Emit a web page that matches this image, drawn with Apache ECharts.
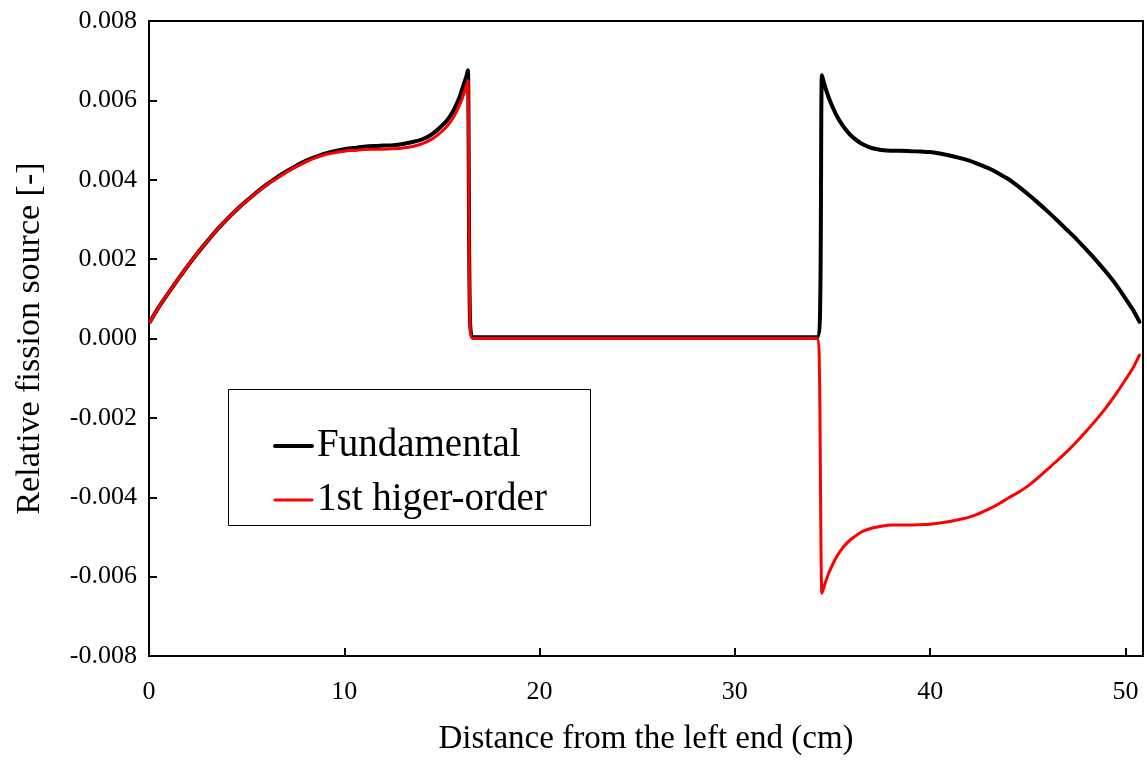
<!DOCTYPE html>
<html>
<head>
<meta charset="utf-8">
<script src="https://cdn.jsdelivr.net/npm/echarts@6/dist/echarts.min.js"></script>
<style>
html,body{margin:0;padding:0;background:#fff;}
#c{width:1147px;height:763px;}
</style>
</head>
<body>
<div id="c"></div>
<script>
// Distance (cm) and relative fission source values
const fundX = [0.05, 0.5, 1, 1.5, 2, 2.5, 3, 3.5, 4, 4.5, 5, 5.5, 6, 6.5, 7, 7.5, 8, 8.5, 9, 9.5, 10, 10.5, 11, 11.5, 12, 12.5, 13, 13.5, 14, 14.5, 15, 15.3, 15.6, 15.9, 16.1, 16.25, 16.33, 16.42, 16.56,
  34.2, 34.37, 34.46, 34.6, 34.8, 35.0, 35.25, 35.5, 35.75, 36.0, 36.3, 36.6, 37.0, 37.5, 38, 38.5, 39, 39.5, 40, 40.5, 41, 41.5, 42, 42.5, 43, 43.5, 44, 44.5, 45, 45.5, 46, 46.5, 47, 47.5, 48, 48.5, 49, 49.5, 50, 50.4, 50.72];
const fundY = [0.00042, 0.00079, 0.00115, 0.00150, 0.00184, 0.00216, 0.00246, 0.00275, 0.00301, 0.00325, 0.00347, 0.00368, 0.00387, 0.00404, 0.00420, 0.00434, 0.00447, 0.00457, 0.00466, 0.00472, 0.00477, 0.00480, 0.00483, 0.00485, 0.00486, 0.00487, 0.00490, 0.00495, 0.00502, 0.00515, 0.00536, 0.00552, 0.00575, 0.00608, 0.00638, 0.00660, 0.00676, 0.00100, 0.00003,
  0.00003, 0.00090, 0.00663, 0.00638, 0.00608, 0.00584, 0.00558, 0.00538, 0.00522, 0.00509, 0.00497, 0.00488, 0.00480, 0.00475, 0.00473, 0.00473, 0.00472, 0.00471, 0.00470, 0.00466, 0.00461, 0.00455, 0.00448, 0.00439, 0.00429, 0.00416, 0.00402, 0.00384, 0.00364, 0.00343, 0.00321, 0.00298, 0.00274, 0.00250, 0.00224, 0.00197, 0.00168, 0.00137, 0.00101, 0.00071, 0.00042];

const highX = [0.05, 0.5, 1, 1.5, 2, 2.5, 3, 3.5, 4, 4.5, 5, 5.5, 6, 6.5, 7, 7.5, 8, 8.5, 9, 9.5, 10, 10.5, 11, 11.5, 12, 12.5, 13, 13.5, 14, 14.5, 15, 15.3, 15.6, 15.9, 16.1, 16.25, 16.33, 16.42, 16.56,
  34.2, 34.33, 34.46, 34.6, 34.8, 35.0, 35.25, 35.5, 35.75, 36.0, 36.3, 36.6, 37.0, 37.5, 38, 38.5, 39, 39.5, 40, 40.5, 41, 41.5, 42, 42.5, 43, 43.5, 44, 44.5, 45, 45.5, 46, 46.5, 47, 47.5, 48, 48.5, 49, 49.5, 50, 50.4, 50.72];
const highY = [0.00042, 0.00079, 0.00115, 0.00150, 0.00184, 0.00216, 0.00246, 0.00275, 0.00301, 0.00325, 0.00347, 0.00367, 0.00386, 0.00402, 0.00418, 0.00432, 0.00444, 0.00455, 0.00463, 0.00468, 0.00472, 0.00474, 0.00476, 0.00477, 0.00477, 0.00478, 0.00480, 0.00484, 0.00491, 0.00503, 0.00522, 0.00537, 0.00558, 0.00588, 0.00613, 0.00635, 0.00650, 0.00095, 0.00000,
  0.00000, -0.00080, -0.00642, -0.00620, -0.00592, -0.00570, -0.00547, -0.00529, -0.00515, -0.00504, -0.00493, -0.00485, -0.00478, -0.00473, -0.00470, -0.00470, -0.00470, -0.00469, -0.00468, -0.00465, -0.00461, -0.00456, -0.00450, -0.00441, -0.00430, -0.00417, -0.00402, -0.00388, -0.00372, -0.00352, -0.00330, -0.00308, -0.00285, -0.00260, -0.00233, -0.00205, -0.00175, -0.00141, -0.00104, -0.00073, -0.00042];

const seriesNames = ['Fundamental', '1st higer-order'];
const xTitle = 'Distance from the left end (cm)';
const yTitle = 'Relative fission source [-]';

function pairs(xs, ys) { return xs.map((x, i) => [x, ys[i]]); }

const FONT = '"Liberation Serif", "Times New Roman", serif';
const chart = echarts.init(document.getElementById('c'), null, {renderer: 'canvas'});
chart.setOption({
  animation: false,
  backgroundColor: '#fff',
  grid: {left: 149, right: 4, top: 21, bottom: 107, containLabel: false, outerBoundsMode: 'none',
    show: true, borderColor: '#000', borderWidth: 2, backgroundColor: 'transparent'},
  xAxis: {
    type: 'value', min: 0, max: 50.9, interval: 10,
    name: xTitle, nameLocation: 'middle', nameGap: 67,
    nameTextStyle: {fontFamily: FONT, fontSize: 33, color: '#000'},
    axisLine: {show: true, onZero: false, lineStyle: {color: '#000', width: 2}},
    axisTick: {show: true, inside: true, length: 8, lineStyle: {color: '#000', width: 2}},
    axisLabel: {fontFamily: FONT, fontSize: 26, color: '#000', margin: 23, showMaxLabel: false},
    splitLine: {show: false}
  },
  yAxis: {
    type: 'value', min: -0.008, max: 0.008, interval: 0.002,
    name: yTitle, nameLocation: 'middle', nameGap: 102,
    nameTextStyle: {fontFamily: FONT, fontSize: 34, color: '#000'},
    axisLine: {show: true, onZero: false, lineStyle: {color: '#000', width: 2}},
    axisTick: {show: true, inside: true, length: 8, lineStyle: {color: '#000', width: 2}},
    axisLabel: {fontFamily: FONT, fontSize: 26, color: '#000', margin: 12,
      formatter: v => v.toFixed(3)},
    splitLine: {show: false}
  },
  legend: {
    show: true, orient: 'vertical', left: 268, top: 421, itemGap: 14,
    itemWidth: 37, itemHeight: 14, z: 5,
    itemStyle: {opacity: 0},
    textStyle: {fontFamily: FONT, fontSize: 39, color: '#000', lineHeight: 40},
    data: [
      {name: seriesNames[0], lineStyle: {width: 4, color: '#000'}},
      {name: seriesNames[1], lineStyle: {width: 3, color: '#ff0000'}}
    ]
  },
  graphic: [{
    type: 'rect', left: 228, top: 389, z: 1,
    shape: {width: 362, height: 136},
    style: {fill: '#fff', stroke: '#000', lineWidth: 1}
  }],
  series: [
    {name: seriesNames[0], type: 'line', symbol: 'none', data: pairs(fundX, fundY),
      smooth: 0.25,
      lineStyle: {color: '#000', width: 4, join: 'round', cap: 'round'}, itemStyle: {color: '#000'}, z: 2},
    {name: seriesNames[1], type: 'line', symbol: 'none', data: pairs(highX, highY),
      smooth: 0.25,
      lineStyle: {color: '#ff0000', width: 3, join: 'round', cap: 'round'}, itemStyle: {color: '#ff0000'}, z: 3}
  ]
});
</script>
</body>
</html>
